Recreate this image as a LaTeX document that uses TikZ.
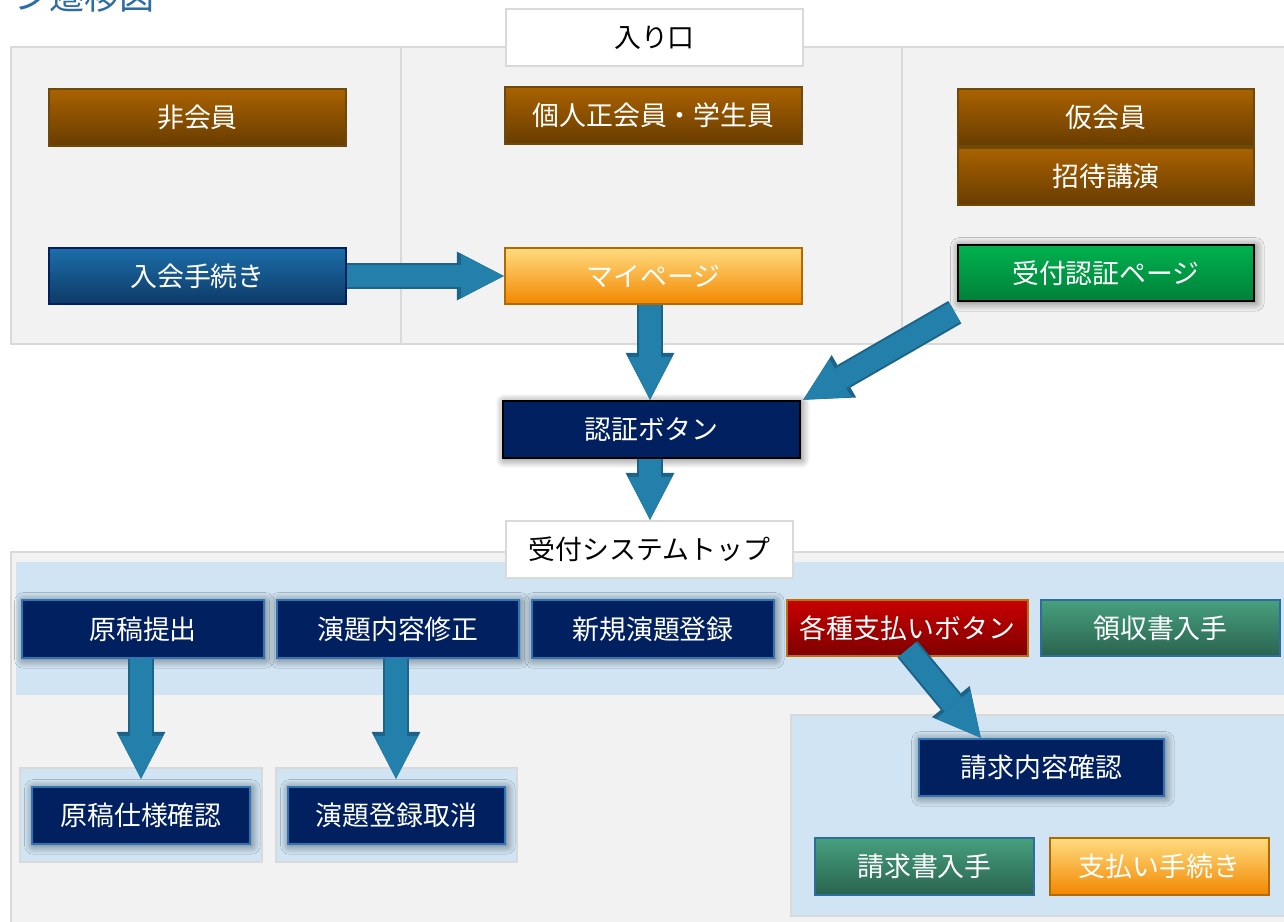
\documentclass[tikz,border=0pt]{standalone}
\usepackage{fontspec}
\setmainfont{Noto Sans CJK JP}
\usetikzlibrary{arrows.meta,calc,shadows.blur}

\definecolor{panelgray}{HTML}{F2F2F2}
\definecolor{panelline}{HTML}{D9D9D9}
\definecolor{bandblue}{HTML}{D0E4F3}
\definecolor{navy}{HTML}{002060}
\definecolor{navyline}{HTML}{2E75B6}
\definecolor{browntop}{HTML}{AA6200}
\definecolor{brownbot}{HTML}{683C00}
\definecolor{brownline}{HTML}{6E4A0A}
\definecolor{bluetop}{HTML}{1C6EAA}
\definecolor{bluebot}{HTML}{0D3A66}
\definecolor{orangetop}{HTML}{FFDC80}
\definecolor{orangebot}{HTML}{F28700}
\definecolor{orangeline}{HTML}{B06A00}
\definecolor{greentop}{HTML}{00B24E}
\definecolor{greenbot}{HTML}{00803A}
\definecolor{redtop}{HTML}{C80000}
\definecolor{redbot}{HTML}{7E0000}
\definecolor{redline}{HTML}{C07000}
\definecolor{tealtop}{HTML}{46A07E}
\definecolor{tealbot}{HTML}{2A634F}
\definecolor{tealline}{HTML}{2C6E9E}
\definecolor{arrowfill}{HTML}{2380AB}
\definecolor{arrowedge}{HTML}{1D6387}
\definecolor{titleblue}{HTML}{2E6DA4}

\tikzset{
  panel/.style={draw=panelline, fill=panelgray, line width=0.05cm},
  bandpanel/.style={draw=panelline, fill=bandblue, line width=0.05cm},
  btn/.style={rectangle, inner sep=0pt, line width=0.05cm, minimum width=5.94cm,
    minimum height=1.14cm, text=white},
  glow/.style={blur shadow={shadow xshift=0.8pt, shadow yshift=-0.8pt,
    shadow blur radius=5pt, shadow opacity=60, shadow blur steps=8}},
  whitebox/.style={btn, draw=panelline, fill=white, text=black},
  brownbtn/.style={btn, draw=brownline, top color=browntop, bottom color=brownbot},
  bluebtn/.style={btn, draw=navy, top color=bluetop, bottom color=bluebot},
  orangebtn/.style={btn, draw=orangeline, top color=orangetop, bottom color=orangebot},
  greenbtn/.style={btn, draw=black, top color=greentop, bottom color=greenbot, glow},
  navybtn/.style={btn, draw=navyline, fill=navy, glow},
  redbtn/.style={btn, draw=redline, top color=redtop, bottom color=redbot},
  tealbtn/.style={btn, draw=tealline, top color=tealtop, bottom color=tealbot},
  blockarrow/.style={draw=arrowfill, line width=0.44cm,
    -{Triangle[width=0.88cm, length=0.86cm, line width=0pt]},
    preaction={draw=arrowedge, line width=0.52cm,
      -{Triangle[width=0.98cm, length=0.94cm, line width=0pt]}}}
}

\begin{document}
\begin{tikzpicture}[x=0.02cm, y=-0.02cm]
 \clip (0,0) rectangle (1284,921);
 \useasboundingbox (0,0) rectangle (1284,921);

 % title, cut at the top
 \node[anchor=base west, text=titleblue, inner sep=0pt,
   font=\fontsize{20pt}{24pt}\selectfont] (title) at (14,9) {ン遷移図};

 % panels
 \draw[panel] (11,47) rectangle (1290,344);
 \draw[panelline, line width=0.05cm] (401,47) -- (401,344) (902,47) -- (902,344);
 \draw[panel] (11,552) rectangle (1290,930);
 \fill[bandblue] (16,562) rectangle (1290,695);
 \draw[bandpanel] (20,768) rectangle (262,862);
 \draw[bandpanel] (276,768) rectangle (517,862);
 \draw[bandpanel] (791,715) rectangle (1290,916);

 \begin{scope}[every node/.style={font=\fontsize{15.3pt}{18pt}\selectfont}]
   \node[whitebox] (iriguchi) at (654.5,37.5) {入り口};
   \node[brownbtn] (hikaiin) at (197.5,117.5) {非会員};
   \node[brownbtn] (seikaiin) at (653.5,115.5) {個人正会員・学生員};
   \node[brownbtn, minimum width=5.92cm] (karikaiin) at (1106,117.5) {仮会員};
   \node[brownbtn, minimum width=5.92cm] (shotai) at (1106,176.5) {招待講演};
   \node[bluebtn, minimum height=1.12cm] (nyukai) at (197.5,276) {入会手続き};
   \node[orangebtn, minimum height=1.12cm] (mypage) at (653.5,276) {マイページ};
   \node[greenbtn, minimum width=5.92cm, minimum height=1.12cm] (uketsuke) at (1106,273) {受付認証ページ};
   \node[navybtn, draw=black] (ninsho) at (651.5,429.5) {認証ボタン};
   \node[whitebox, minimum width=5.74cm] (systop) at (649.5,549.5) {受付システムトップ};

   \node[navybtn, minimum width=4.84cm, minimum height=1.16cm] (genko) at (143,629) {原稿提出};
   \node[navybtn, minimum width=4.84cm, minimum height=1.16cm] (enda) at (398,629) {演題内容修正};
   \node[navybtn, minimum width=4.84cm, minimum height=1.16cm] (shinki) at (653,629) {新規演題登録};
   \node[redbtn, minimum width=4.82cm, minimum height=1.12cm] (shiharai) at (907.5,628) {各種支払いボタン};
   \node[tealbtn, minimum width=4.78cm, minimum height=1.12cm] (ryoshu) at (1160.5,628) {領収書入手};

   \node[navybtn, minimum width=4.36cm] (shiyo) at (141,815.5) {原稿仕様確認};
   \node[navybtn, minimum width=4.34cm] (torikeshi) at (396.5,815.5) {演題登録取消};
   \node[navybtn, minimum width=4.9cm] (seikyu) at (1041.5,767.5) {請求内容確認};
   \node[tealbtn, minimum width=4.38cm] (seikyusho) at (924.5,866.5) {請求書入手};
   \node[orangebtn, text=white, minimum width=4.38cm] (tetsuzuki) at (1159.5,866.5) {支払い手続き};
 \end{scope}

 % arrows
 \draw[blockarrow] (nyukai) -- (mypage);
 \draw[blockarrow] ([xshift=-0.07cm]mypage.south) -- ([xshift=-0.07cm]mypage.south |- ninsho.north);
 \draw[blockarrow] ([xshift=-0.04cm,yshift=-0.2cm]uketsuke.south west) -- ([xshift=0.04cm]ninsho.north east);
 \draw[blockarrow] ([xshift=-0.03cm]ninsho.south) -- ([xshift=-0.03cm]ninsho.south |- systop.north);
 \draw[blockarrow, shorten >=0.14cm] ([xshift=-0.04cm]genko.south) -- ([xshift=-0.04cm]genko.south |- shiyo.north);
 \draw[blockarrow, shorten >=0.14cm] ([xshift=-0.04cm]enda.south) -- ([xshift=-0.04cm]enda.south |- torikeshi.north);
 \draw[blockarrow] ([yshift=0.16cm]shiharai.south) -- ([xshift=1.26cm]seikyu.north west);
\end{tikzpicture}
\end{document}
